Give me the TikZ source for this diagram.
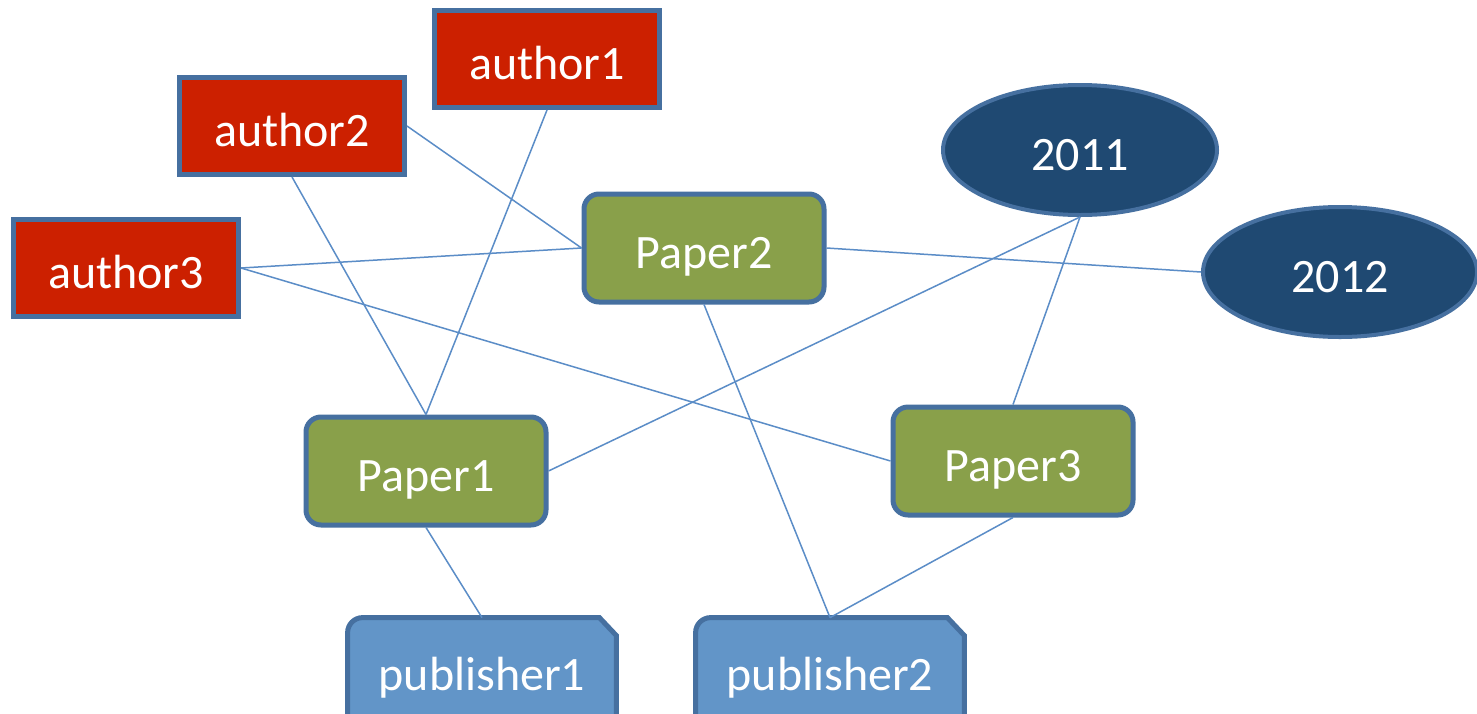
\documentclass[tikz,border=0pt]{standalone}
\usepackage{fontspec}
\setmainfont{Carlito}
\usepackage{tikz}
\usetikzlibrary{shapes.geometric,backgrounds}
\definecolor{edgeblue}{RGB}{70,112,160}
\definecolor{authorred}{RGB}{204,32,0}
\definecolor{paperolive}{RGB}{137,160,74}
\definecolor{yearnavy}{RGB}{31,73,114}
\definecolor{pubblue}{RGB}{98,149,200}
\definecolor{linkblue}{RGB}{91,141,199}
\tikzset{
  label/.style={text=white,font=\fontsize{24}{28}\selectfont,inner sep=0pt,
    text height=20pt,text depth=0pt},
  authorbox/.style={label,draw=edgeblue,line width=2.5pt,fill=authorred,
    minimum width=112.5pt,minimum height=48.5pt},
  paperbox/.style={label,draw=edgeblue,line width=2.5pt,fill=paperolive,
    rounded corners=7.5pt,minimum width=120pt,minimum height=54pt},
  yearbox/.style={label,ellipse,draw=edgeblue,line width=2pt,fill=yearnavy,
    minimum width=137pt,minimum height=65pt},
  pubbox/.style={label,minimum width=134pt,minimum height=52pt},
  link/.style={draw=linkblue,line width=0.75pt}
}

\begin{document}
\begin{tikzpicture}[x=0.5pt,y=-0.5pt]
  \clip (0,0) rectangle (1477,713);
  % authors
  \node[authorbox] (author1) at (547,59) {author1};
  \node[authorbox] (author2) at (292,126) {author2};
  \node[authorbox] (author3) at (126,268) {author3};
  % papers
  \node[paperbox] (paper2) at (704,248) {Paper2};
  \node[paperbox] (paper1) at (426,471) {Paper1};
  \node[paperbox] (paper3) at (1013,461) {Paper3};
  % years
  \node[yearbox] (y2011) at (1080,150) {2011};
  \node[yearbox] (y2012) at (1340,272) {2012};
  % publishers
  \node[pubbox] (pub1) at (482,670) {publisher1};
  \node[pubbox] (pub2) at (830,670) {publisher2};
  \begin{scope}[on background layer]
    \fill[white] (0,0) rectangle (1477,713);
    \foreach \p in {pub1,pub2}
      \filldraw[draw=edgeblue,line width=2.5pt,fill=pubblue]
        (\p.south west) [rounded corners=7.5pt] -- (\p.north west)
        [sharp corners] -- ([xshift=-8.5pt]\p.north east)
        -- ([yshift=-9pt]\p.north east) -- (\p.south east) -- cycle;
  \end{scope}
  % links
  \foreach \a/\b in {author2.east/paper2.west, author1.south/paper1.north,
                     author2.south/paper1.north, author3.east/paper2.west,
                     author3.east/paper3.west, paper2.east/y2012.west,
                     paper2.south/pub2.north, paper1.east/y2011.south,
                     y2011.south/paper3.north, paper1.south/pub1.north,
                     paper3.south/pub2.north}
    \draw[link] (\a) -- (\b);
\end{tikzpicture}
\end{document}
